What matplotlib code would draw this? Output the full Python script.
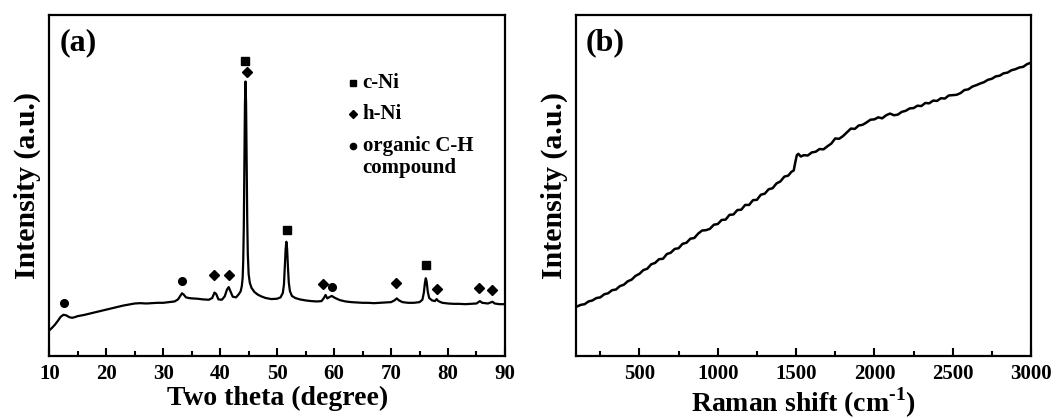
import matplotlib
matplotlib.use('Agg')
import matplotlib.pyplot as plt
from matplotlib.ticker import MultipleLocator

plt.rcParams['font.family'] = ['Liberation Serif', 'DejaVu Serif']
plt.rcParams['font.weight'] = 'bold'
plt.rcParams['mathtext.fontset'] = 'custom'
plt.rcParams['mathtext.rm'] = 'Liberation Serif:bold'
plt.rcParams['mathtext.bf'] = 'Liberation Serif:bold'

# (a) XRD pattern, intensity (arb. units, 0-100 of the frame)
two_theta = [10.0, 10.5, 11.0, 11.5, 12.0, 12.5, 13.0, 13.5, 14.0, 14.5, 15.0, 16.0, 17.0, 18.0,
             19.0, 20.0, 21.0, 22.0, 23.0, 24.0, 25.0, 26.0, 27.0, 28.0, 29.0, 30.0, 31.0, 32.0,
             32.6, 33.0, 33.3, 33.6, 34.0, 34.5, 35.0, 36.0, 37.0, 38.0, 38.6, 39.0, 39.3, 39.7,
             40.3, 40.8, 41.2, 41.5, 41.8, 42.2, 42.8, 43.3, 43.6, 43.8, 43.95, 44.05, 44.15,
             44.25, 44.35, 44.45, 44.55, 44.65, 44.75, 44.85, 45.0, 45.2, 45.5, 46.0, 46.6, 47.2,
             48.0, 49.0, 50.0, 50.6, 51.0, 51.2, 51.35, 51.5, 51.62, 51.75, 51.9, 52.05, 52.25,
             52.6, 53.2, 54.0, 55.0, 56.0, 57.0, 57.8, 58.2, 58.5, 58.8, 59.2, 59.6, 60.2, 61.0,
             62.0, 63.0, 64.0, 65.0, 66.0, 67.0, 68.0, 69.0, 70.0, 70.6, 71.0, 71.4, 72.0, 73.0,
             74.0, 75.0, 75.5, 75.75, 75.95, 76.1, 76.25, 76.45, 76.7, 77.2, 77.7, 78.0, 78.3,
             79.0, 80.0, 81.0, 82.0, 83.0, 84.0, 85.0, 85.6, 86.0, 87.0, 87.8, 88.2, 89.0, 90.0]
xrd_int = [7.5, 8.3, 9.2, 10.3, 11.5, 12.1, 11.9, 11.4, 11.2, 11.4, 11.7, 12.0, 12.4, 12.8,
           13.2, 13.6, 14.0, 14.4, 14.8, 15.1, 15.4, 15.5, 15.4, 15.5, 15.6, 15.6, 15.8, 16.0,
           16.6, 17.6, 18.4, 18.0, 17.2, 17.0, 16.9, 16.8, 16.6, 16.5, 17.0, 18.6, 18.2, 16.6,
           16.5, 17.5, 19.5, 20.2, 19.0, 17.4, 17.2, 18.2, 19.0, 20.5, 23.0, 28.0, 38.0,
           55.0, 74.0, 80.5, 74.0, 56.0, 40.0, 30.0, 24.0, 21.5, 20.0, 18.8, 18.0, 17.5,
           17.0, 16.7, 16.8, 17.2, 18.5, 21.0, 26.0, 31.5, 33.5, 31.5, 26.0, 21.5, 19.0,
           17.6, 17.0, 16.6, 16.3, 16.1, 16.0, 16.1, 17.0, 17.9, 16.9, 17.3, 17.6, 17.0, 16.4,
           16.0, 15.8, 15.7, 15.6, 15.6, 15.5, 15.6, 15.7, 15.8, 16.3, 16.9, 16.3, 15.8, 15.6,
           15.6, 15.8, 16.5, 18.5, 21.5, 22.8, 21.8, 18.8, 17.0, 16.3, 16.1, 16.7, 16.1,
           15.6, 15.4, 15.3, 15.3, 15.2, 15.3, 15.4, 16.1, 15.6, 15.4, 15.9, 15.4, 15.2, 15.2]

# peak markers
cni_x = [44.3, 51.75, 76.1]
cni_y = [86.5, 37.0, 26.7]
hni_x = [38.95, 41.5, 44.7, 58.1, 70.95, 78.0, 85.45, 87.7]
hni_y = [23.7, 23.9, 83.2, 21.2, 21.5, 19.6, 19.8, 19.4]
ch_x = [12.5, 33.3, 59.6]
ch_y = [15.4, 22.1, 20.2]

# (b) Raman spectrum
raman_x = [95, 125, 150, 175, 200, 225, 250, 275, 300, 325, 350, 375, 400, 425, 450, 475,
           500, 525, 550, 575, 600, 625, 650, 675, 700, 725, 750, 775, 800, 825, 850, 875,
           900, 925, 950, 975, 1000, 1025, 1050, 1075, 1100, 1125, 1150, 1175, 1200, 1225,
           1250, 1275, 1300, 1325, 1350, 1375, 1400, 1425, 1450, 1470, 1485, 1495, 1505, 1515,
           1530, 1550, 1575, 1600, 1625, 1650, 1675, 1700, 1725, 1750, 1775, 1800, 1825, 1850,
           1875, 1900, 1925, 1950, 1975, 2000, 2025, 2050, 2075, 2100, 2125, 2150, 2175, 2200,
           2225, 2250, 2275, 2300, 2325, 2350, 2375, 2400, 2425, 2450, 2475, 2500, 2525, 2550,
           2575, 2600, 2625, 2650, 2675, 2700, 2725, 2750, 2775, 2800, 2825, 2850, 2875, 2900,
           2925, 2950, 2975, 3000]
raman_y = [14.4, 15.0, 15.2, 16.0, 16.3, 17.0, 17.2, 18.1, 18.4, 19.3, 19.5, 20.5, 20.9, 21.9,
           22.4, 23.5, 24.1, 25.2, 25.6, 26.9, 27.3, 28.4, 28.5, 29.9, 30.3, 31.4, 31.6, 32.9,
           33.2, 34.4, 34.6, 35.9, 36.8, 36.9, 37.3, 38.5, 38.7, 39.9, 40.0, 41.4, 41.5, 42.8,
           42.9, 44.3, 44.3, 45.7, 45.8, 47.3, 47.6, 48.9, 49.2, 50.6, 51.2, 52.6, 52.9, 54.0,
           54.4, 56.8, 58.9, 59.3, 58.5, 58.9, 58.8, 59.7, 59.9, 60.7, 60.6, 61.5, 62.3, 63.8,
           63.7, 64.5, 65.6, 66.7, 66.6, 67.6, 67.8, 68.5, 69.3, 69.4, 70.0, 69.7, 70.6, 71.1,
           70.6, 70.8, 71.6, 71.9, 72.6, 72.7, 73.4, 73.3, 74.2, 74.1, 74.9, 74.8, 75.6, 75.5,
           76.4, 76.5, 76.6, 77.1, 78.0, 78.2, 79.0, 79.4, 79.9, 80.3, 81.0, 81.3, 82.0, 82.2,
           82.9, 83.1, 83.8, 84.1, 84.6, 84.8, 85.6, 86.0]

fig = plt.figure(figsize=(10.62, 4.18), dpi=100)
ax1 = fig.add_axes([0.0464, 0.1483, 0.4291, 0.8158])
ax2 = fig.add_axes([0.5424, 0.1483, 0.4284, 0.8158])


def style_axes(ax):
    for sp in ax.spines.values():
        sp.set_linewidth(1.6)
    ax.tick_params(axis='x', which='both', direction='in', top=False, labelsize=15, width=1.5, pad=6)
    ax.tick_params(axis='x', which='major', length=6)
    ax.tick_params(axis='x', which='minor', length=3.5)
    ax.set_yticks([])
    ax.set_ylim(0, 100)


ax1.plot(two_theta, xrd_int, color='black', lw=1.6)
ax1.plot(cni_x, cni_y, 's', color='black', ms=5.5, ls='none')
ax1.plot(hni_x, hni_y, 'D', color='black', ms=5, ls='none')
ax1.plot(ch_x, ch_y, 'o', color='black', ms=5.5, ls='none')

# legend drawn by hand like the original
ax1.plot([63.4], [80.0], 's', color='black', ms=5)
ax1.plot([63.4], [70.9], 'D', color='black', ms=4.5)
ax1.plot([63.4], [61.7], 'o', color='black', ms=4.5)
ax1.text(65.0, 80.0, 'c-Ni', fontsize=15, fontweight='bold', va='center')
ax1.text(65.0, 70.9, 'h-Ni', fontsize=15, fontweight='bold', va='center')
ax1.text(65.0, 61.7, 'organic C-H', fontsize=15, fontweight='bold', va='center')
ax1.text(65.0, 55.0, 'compound', fontsize=15, fontweight='bold', va='center')

ax1.set_xlim(10, 90)
ax1.xaxis.set_major_locator(MultipleLocator(10))
ax1.xaxis.set_minor_locator(MultipleLocator(5))
style_axes(ax1)
ax1.set_xlabel('Two theta (degree)', fontsize=20, fontweight='bold', labelpad=1)
ax1.set_ylabel('Intensity (a.u.)', fontsize=21.5, fontweight='bold', labelpad=6)
ax1.text(0.022, 0.92, '(a)', transform=ax1.transAxes, fontsize=23, fontweight='bold', va='center')

ax2.plot(raman_x, raman_y, color='black', lw=1.8)
ax2.set_xlim(95, 3000)
ax2.xaxis.set_major_locator(MultipleLocator(500))
ax2.xaxis.set_minor_locator(MultipleLocator(250))
style_axes(ax2)
ax2.set_xlabel('Raman shift (cm$^{\\text{-1}}$)', fontsize=20, fontweight='bold', labelpad=1)
ax2.set_ylabel('Intensity (a.u.)', fontsize=21.5, fontweight='bold', labelpad=6)
ax2.text(0.022, 0.92, '(b)', transform=ax2.transAxes, fontsize=23, fontweight='bold', va='center')

fig.savefig('out.png', dpi=100)
